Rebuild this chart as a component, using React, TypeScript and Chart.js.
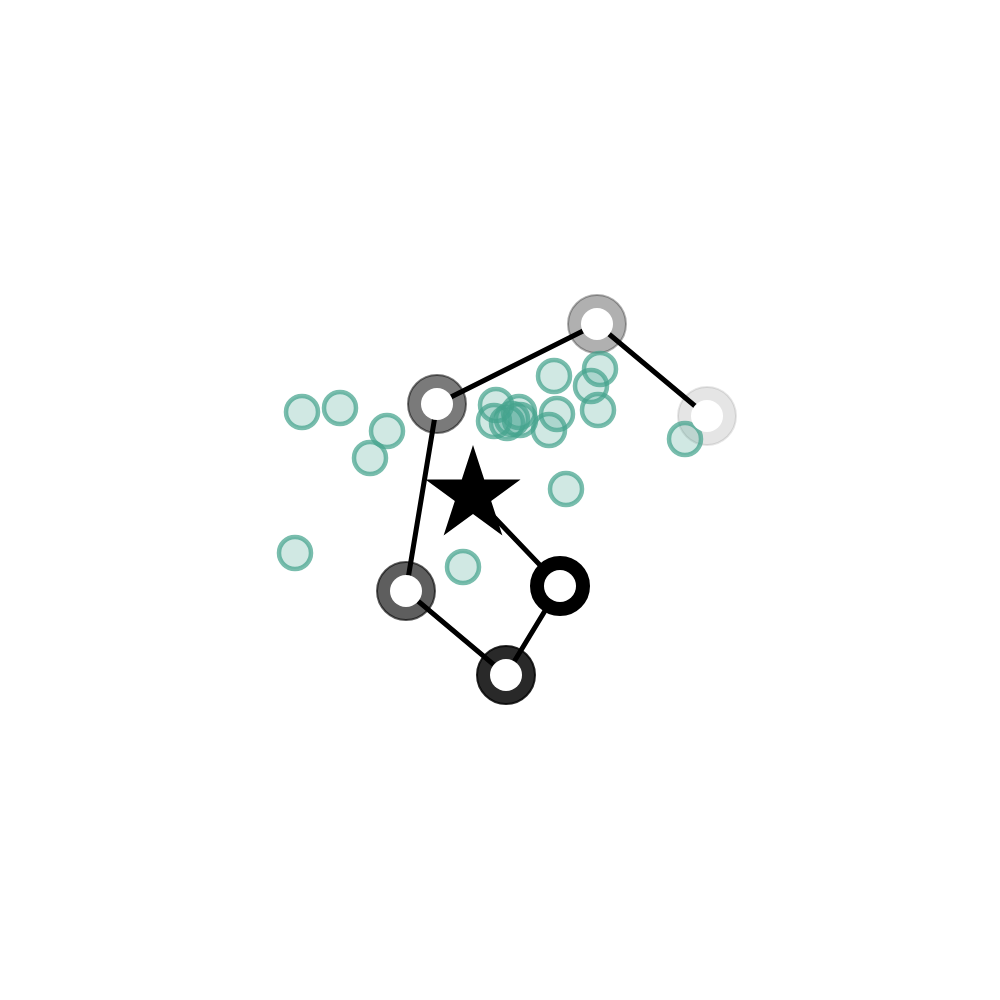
import React, { useEffect, useRef } from "react";
import { Chart, registerables } from "chart.js";

Chart.register(...registerables);

// Scattered teal observations
const tealX = [3.02, 3.40, 3.87, 3.70, 2.95, 4.63, 5.66, 5.54, 6.00, 5.91, 5.98, 5.57, 5.49, 6.85, 4.96, 4.94, 5.07, 5.12, 5.19, 5.20];
const tealY = [5.88, 5.92, 5.69, 5.42, 4.47, 4.33, 5.11, 6.24, 6.31, 6.14, 5.90, 5.86, 5.70, 5.61, 5.95, 5.79, 5.77, 5.81, 5.88, 5.80];

// Path: start (star) followed by ring waypoints
const pathX = [4.73, 5.60, 5.06, 4.06, 4.37, 5.97, 7.07];
const pathY = [5.05, 4.14, 3.25, 4.09, 5.96, 6.76, 5.84];
// Ring opacity for waypoints 1..6
const ringAlpha = [1, 0.84, 0.63, 0.52, 0.31, 0.1];

const axisMin = 0;
const axisMax = 10;

function makeStar(R: number): HTMLCanvasElement {
  const size = Math.ceil(R * 2 + 4);
  const c = document.createElement("canvas");
  c.width = size;
  c.height = size;
  const ctx = c.getContext("2d")!;
  ctx.translate(size / 2, size / 2);
  ctx.beginPath();
  for (let i = 0; i < 10; i++) {
    const r = i % 2 === 0 ? R : R * 0.382;
    const a = -Math.PI / 2 + (i * Math.PI) / 5;
    ctx.lineTo(r * Math.cos(a), r * Math.sin(a));
  }
  ctx.closePath();
  ctx.fillStyle = "#000";
  ctx.fill();
  return c;
}

export default function App() {
  const ref = useRef<HTMLCanvasElement | null>(null);

  useEffect(() => {
    if (!ref.current) return;
    const teal = tealX.map((x, i) => ({ x, y: tealY[i] }));
    const path = pathX.map((x, i) => ({ x, y: pathY[i] }));
    const rings = path.slice(1);
    const ringColors = ringAlpha.map((a) => `rgba(0,0,0,${a})`);
    const star = makeStar(50);

    const chart = new Chart(ref.current, {
      type: "scatter",
      data: {
        datasets: [
          {
            label: "holes",
            data: rings,
            order: 0,
            pointRadius: 16,
            pointBorderWidth: 0,
            pointBackgroundColor: "#ffffff",
            pointBorderColor: "#ffffff",
          } as any,
          {
            label: "start",
            data: [path[0]],
            order: 1,
            pointStyle: star as any,
            pointRadius: 50,
          } as any,
          {
            label: "teal",
            data: teal,
            order: 2,
            pointRadius: 16,
            pointBorderWidth: 4.5,
            pointBackgroundColor: "rgba(69,163,142,0.25)",
            pointBorderColor: "rgba(69,163,142,0.72)",
          } as any,
          {
            label: "path",
            data: path,
            order: 3,
            showLine: true,
            borderColor: "#000000",
            borderWidth: 5,
            pointRadius: 0,
            fill: false,
          } as any,
          {
            label: "rings",
            data: rings,
            order: 4,
            pointRadius: 29,
            pointBorderWidth: 2,
            pointBackgroundColor: ringColors,
            pointBorderColor: ringColors,
          } as any,
        ],
      },
      options: {
        animation: false,
        responsive: false,
        events: [],
        layout: { padding: 0, autoPadding: false },
        plugins: { legend: { display: false }, tooltip: { enabled: false } },
        scales: {
          x: { type: "linear", min: axisMin, max: axisMax, display: false },
          y: { type: "linear", min: axisMin, max: axisMax, display: false },
        },
      },
    });
    return () => chart.destroy();
  }, []);

  return (
    <div style={{ position: "fixed", left: 0, top: 0, width: 1000, height: 1000, background: "#fff" }}>
      <canvas ref={ref} width={1000} height={1000} />
    </div>
  );
}
